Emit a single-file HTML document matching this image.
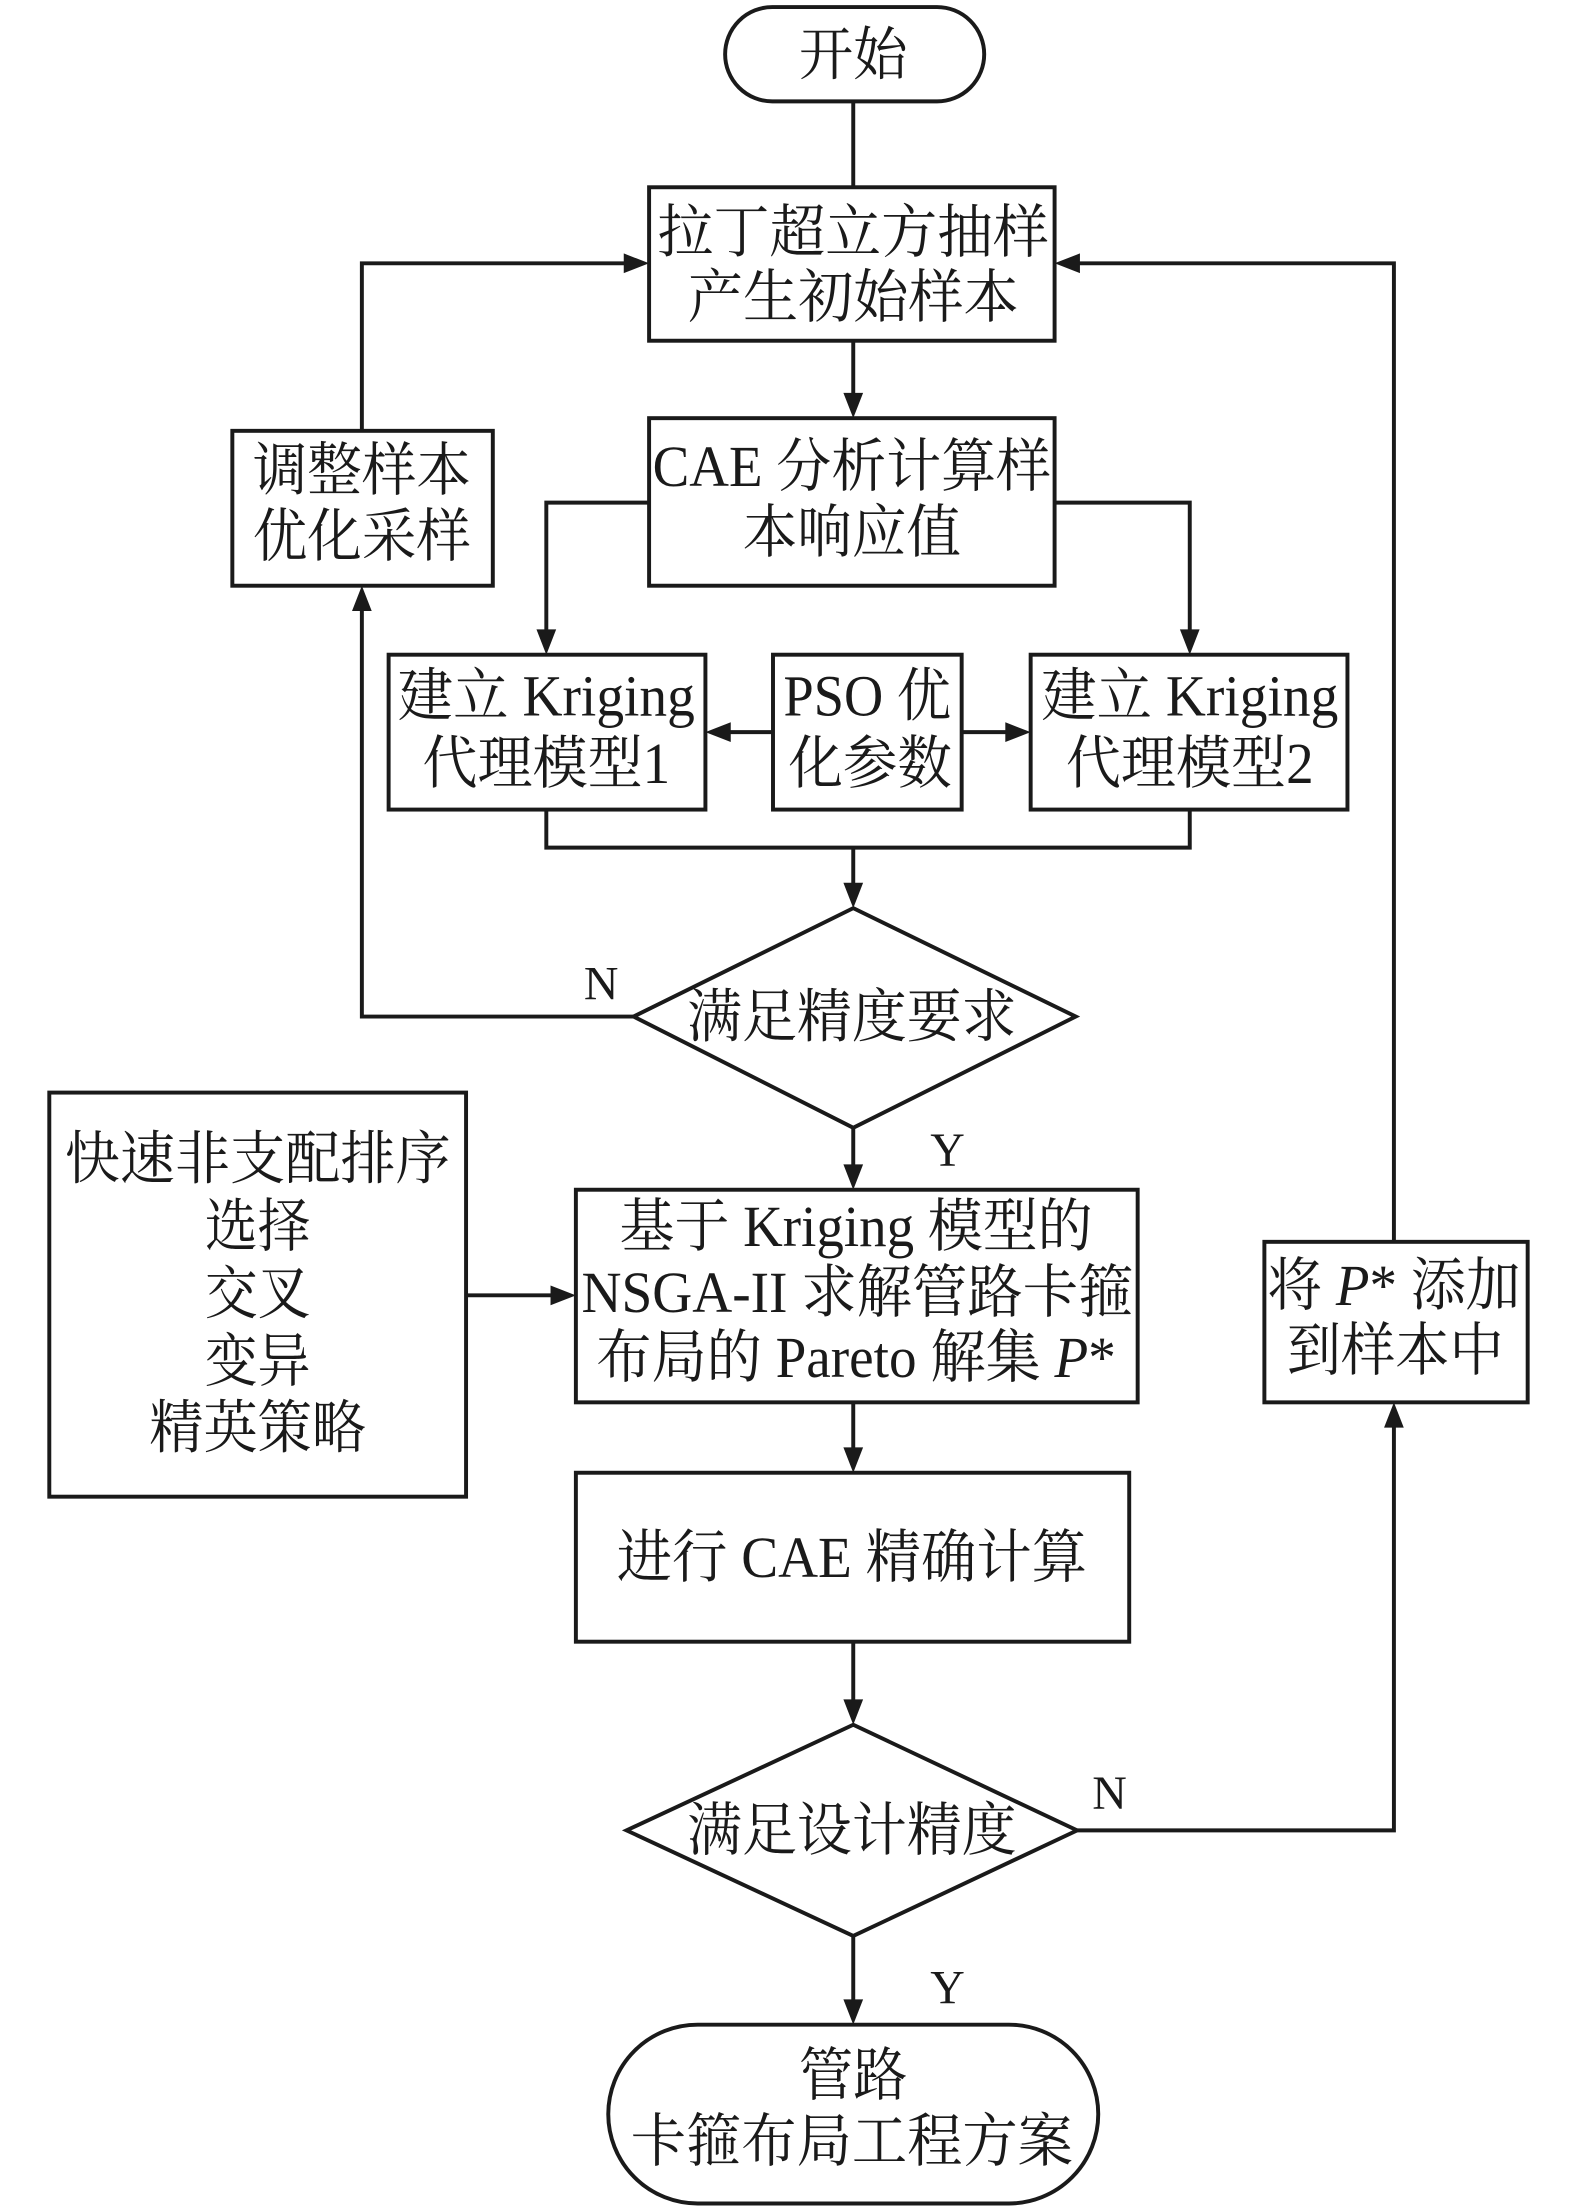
<!DOCTYPE html>
<html><head><meta charset="utf-8"><style>
html,body{margin:0;padding:0;background:#fff;}
svg{display:block;}
text{font-family:"Liberation Serif","Noto Serif CJK SC",serif;fill:#1a1a1a;}
</style></head><body>
<svg width="1575" height="2207" viewBox="0 0 1118.6 1567.5" xmlns="http://www.w3.org/2000/svg">
<g stroke="#1a1a1a" stroke-width="2.8" fill="none">
<rect x="515" y="5" width="184" height="67" rx="33.5"/>
<line x1="606" y1="72" x2="606" y2="133"/>
<rect x="461" y="133" width="288" height="109"/>
<rect x="461" y="297" width="288" height="119"/>
<rect x="165" y="306" width="185" height="110"/>
<rect x="276" y="465" width="225" height="110"/>
<rect x="549" y="465" width="134" height="110"/>
<rect x="732" y="465" width="225" height="110"/>
<polygon points="606,645 764,722 606,801 450,722"/>
<rect x="35" y="776" width="296" height="287"/>
<rect x="409" y="845" width="399" height="151"/>
<rect x="409" y="1046" width="393" height="120"/>
<polygon points="606,1225 765,1300 606,1375 445,1300"/>
<rect x="898" y="882" width="187" height="114"/>
<rect x="432" y="1438" width="348" height="127" rx="63.5"/>
<line x1="606" y1="242" x2="606" y2="280"/>
<polyline points="257,306 257,187 445,187"/>
<polyline points="990,882 990,187 766,187"/>
<polyline points="461,357 388,357 388,448"/>
<polyline points="749,357 845,357 845,448"/>
<line x1="549" y1="520" x2="518" y2="520"/>
<line x1="683" y1="520" x2="715" y2="520"/>
<polyline points="388,575 388,602 845,602 845,575"/>
<line x1="606" y1="602" x2="606" y2="628"/>
<polyline points="450,722 257,722 257,433"/>
<line x1="606" y1="801" x2="606" y2="828"/>
<line x1="331" y1="920" x2="392" y2="920"/>
<line x1="606" y1="996" x2="606" y2="1029"/>
<line x1="606" y1="1166" x2="606" y2="1208"/>
<polyline points="765,1300 990,1300 990,1013"/>
<line x1="606" y1="1375" x2="606" y2="1421"/>
</g>
<g fill="#1a1a1a">
<polygon points="461,187 443,180 443,194"/>
<polygon points="749,187 767,180 767,194"/>
<polygon points="606,297 599,279 613,279"/>
<polygon points="388,465 381,447 395,447"/>
<polygon points="845,465 838,447 852,447"/>
<polygon points="501,520 519,513 519,527"/>
<polygon points="732,520 714,513 714,527"/>
<polygon points="606,645 599,627 613,627"/>
<polygon points="257,416 250,434 264,434"/>
<polygon points="606,845 599,827 613,827"/>
<polygon points="409,920 391,913 391,927"/>
<polygon points="606,1046 599,1028 613,1028"/>
<polygon points="606,1225 599,1207 613,1207"/>
<polygon points="990,996 983,1014 997,1014"/>
<polygon points="606,1438 599,1420 613,1420"/>
</g>
<g font-size="41" text-anchor="middle">
<text x="606" y="53" textLength="77" lengthAdjust="spacingAndGlyphs">开始</text>
<text x="606" y="179" textLength="278" lengthAdjust="spacingAndGlyphs">拉丁超立方抽样</text>
<text x="606" y="225" textLength="235" lengthAdjust="spacingAndGlyphs">产生初始样本</text>
<text x="605" y="345" textLength="283" lengthAdjust="spacingAndGlyphs">CAE 分析计算样</text>
<text x="605" y="392" textLength="155" lengthAdjust="spacingAndGlyphs">本响应值</text>
<text x="257" y="348" textLength="155" lengthAdjust="spacingAndGlyphs">调整样本</text>
<text x="257" y="395" textLength="155" lengthAdjust="spacingAndGlyphs">优化采样</text>
<text x="388" y="508" textLength="211" lengthAdjust="spacingAndGlyphs">建立 Kriging</text>
<text x="388" y="556" textLength="176" lengthAdjust="spacingAndGlyphs">代理模型1</text>
<text x="616" y="508" textLength="119" lengthAdjust="spacingAndGlyphs">PSO 优</text>
<text x="618" y="556" textLength="116" lengthAdjust="spacingAndGlyphs">化参数</text>
<text x="845" y="508" textLength="211" lengthAdjust="spacingAndGlyphs">建立 Kriging</text>
<text x="845" y="556" textLength="176" lengthAdjust="spacingAndGlyphs">代理模型2</text>
<text x="605" y="736" textLength="234" lengthAdjust="spacingAndGlyphs">满足精度要求</text>
<text x="427" y="710" font-size="34">N</text>
<text x="673" y="828" font-size="34">Y</text>
<text x="183" y="837" textLength="274" lengthAdjust="spacingAndGlyphs">快速非支配排序</text>
<text x="183" y="885" textLength="75" lengthAdjust="spacingAndGlyphs">选择</text>
<text x="183" y="933" textLength="75" lengthAdjust="spacingAndGlyphs">交叉</text>
<text x="183" y="981" textLength="75" lengthAdjust="spacingAndGlyphs">变异</text>
<text x="183" y="1028" textLength="154" lengthAdjust="spacingAndGlyphs">精英策略</text>
<text x="608" y="885" textLength="336" lengthAdjust="spacingAndGlyphs">基于 Kriging 模型的</text>
<text x="609" y="932" textLength="392" lengthAdjust="spacingAndGlyphs">NSGA-II 求解管路卡箍</text>
<text x="608" y="978" textLength="369" lengthAdjust="spacingAndGlyphs">布局的 Pareto 解集 <tspan font-style="italic">P</tspan>*</text>
<text x="605" y="1120" textLength="334" lengthAdjust="spacingAndGlyphs">进行 CAE 精确计算</text>
<text x="605" y="1314" textLength="234" lengthAdjust="spacingAndGlyphs">满足设计精度</text>
<text x="788" y="1285" font-size="34">N</text>
<text x="673" y="1423" font-size="34">Y</text>
<text x="990" y="927" textLength="180" lengthAdjust="spacingAndGlyphs">将 <tspan font-style="italic">P</tspan>* 添加</text>
<text x="991" y="973" textLength="154" lengthAdjust="spacingAndGlyphs">到样本中</text>
<text x="606" y="1488" textLength="77" lengthAdjust="spacingAndGlyphs">管路</text>
<text x="605" y="1535" textLength="314" lengthAdjust="spacingAndGlyphs">卡箍布局工程方案</text>
</g>
</svg>
</body></html>
